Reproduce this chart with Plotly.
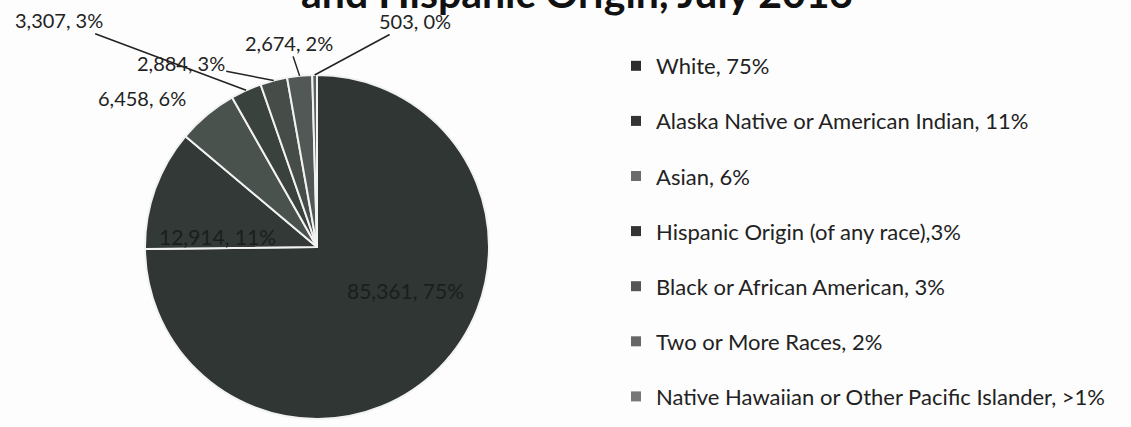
import math
import plotly.graph_objects as go

categories = ["White", "Alaska Native or American Indian", "Asian",
              "Hispanic Origin (of any race)", "Black or African American",
              "Two or More Races", "Native Hawaiian or Other Pacific Islander"]
values = [85361, 12914, 6458, 3307, 2884, 2674, 503]
pct_labels = ["75%", "11%", "6%", "3%", "3%", "2%", "0%"]
legend_labels = ["White, 75%", "Alaska Native or American Indian, 11%", "Asian, 6%",
                 "Hispanic Origin (of any race),3%", "Black or African American, 3%",
                 "Two or More Races, 2%", "Native Hawaiian or Other Pacific Islander, >1%"]
slice_colors = ["#2f3633", "#323936", "#4a524e", "#3a423e", "#464d49", "#525855", "#5c625e"]
legend_colors = ["#2e2e2e", "#333333", "#6a6a6a", "#333333", "#555555", "#666666", "#777777"]
title_text = "and Hispanic Origin, July 2013"

W, H = 1131, 427
# pie domain in pixels
cx, cy, R = 317, 247, 172
dom_x = [(cx - R) / W, (cx + R) / W]
dom_y = [1 - (cy + R) / H, 1 - (cy - R) / H]

FONT = "Lato, 'Open Sans', sans-serif"

fig = go.Figure()
fig.add_trace(go.Pie(
    labels=categories, values=values, sort=False, direction="clockwise",
    rotation=0, textinfo="none", hoverinfo="label+value+percent",
    marker=dict(colors=slice_colors, line=dict(color="#f2f2f2", width=2)),
    domain=dict(x=dom_x, y=dom_y), showlegend=False,
))

# legend via dummy traces
for lab, col in zip(legend_labels, legend_colors):
    fig.add_trace(go.Scatter(
        x=[None], y=[None], mode="markers", name=lab, legendgroup=lab,
        marker=dict(symbol="square", size=10, color=col),
    ))

# label positions derived from the data angles
total = sum(values)
cum = 0
mids = []
for v in values:
    mids.append((cum + v / 2) / total * 2 * math.pi)
    cum += v

def edge_point(theta, frac=1.0):
    px = cx + R * frac * math.sin(theta)
    py = cy - R * frac * math.cos(theta)
    return px / W, 1 - py / H

label_texts = [f"{v:,}, {p}" for v, p in zip(values, pct_labels)]
# (ax, ay) pixel offsets of each label from its slice edge point; arrow flag
offsets = [None, None, (-65, -17, False), (-187, -70, True), (-93, -18, True),
           (-11, -33, True), (100, -54, True)]

# inside labels
inside_pos = [(405, 290), (217, 237)]
for i, (px, py) in enumerate(inside_pos):
    fig.add_annotation(x=px / W, y=1 - py / H, xref="paper", yref="paper",
                       xanchor="center", yanchor="middle",
                       text=label_texts[i], showarrow=False,
                       font=dict(family=FONT, size=21, color="#1a1f1c"))

for i in range(2, len(values)):
    ax, ay, arrow = offsets[i]
    x, y = edge_point(mids[i])
    fig.add_annotation(x=x, y=y, xref="paper", yref="paper", text=label_texts[i],
                       showarrow=True, ax=ax, ay=ay, arrowhead=0, arrowwidth=1.5,
                       arrowcolor="#222222" if arrow else "rgba(0,0,0,0)",
                       standoff=0, startstandoff=0,
                       font=dict(family=FONT, size=20, color="#222222"))

fig.add_annotation(x=577 / W, y=1 - 19 / H, xref="paper", yref="paper",
                   text="<b>" + title_text + "</b>", showarrow=False,
                   yanchor="bottom", xanchor="center",
                   font=dict(family=FONT, size=41, color="#111111"))

fig.update_layout(
    width=W, height=H, margin=dict(l=0, r=0, t=0, b=0),
    paper_bgcolor="#fdfdfd", plot_bgcolor="#fdfdfd",
    xaxis=dict(visible=False), yaxis=dict(visible=False),
    legend=dict(x=616 / W, y=1 - 45 / H, xanchor="left", yanchor="top",
                tracegroupgap=23.5, font=dict(family=FONT, size=22, color="#222222"),
                bgcolor="rgba(0,0,0,0)", itemwidth=30),
)

fig.write_html("out.html", config={"displayModeBar": False},
               post_script="document.body.style.margin='0';")
